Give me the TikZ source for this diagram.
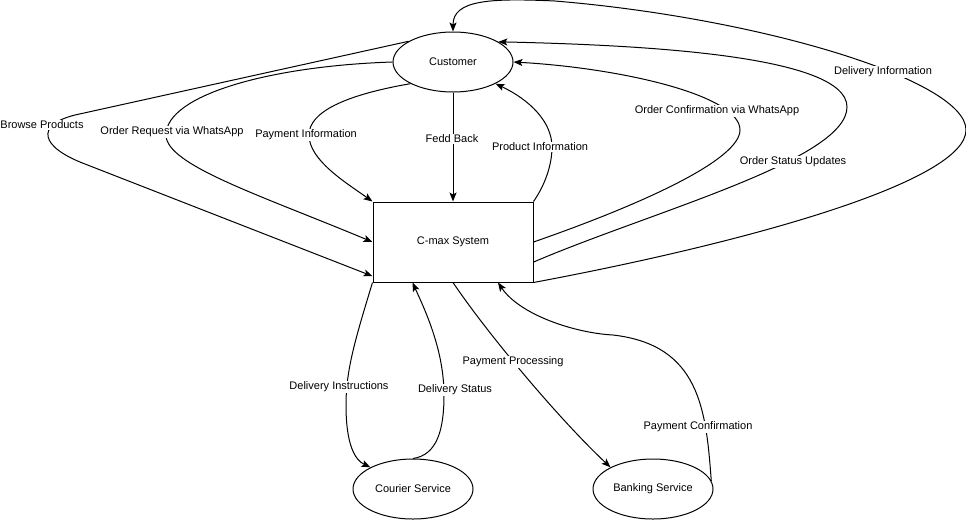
\documentclass[tikz,border=0pt]{standalone}
\usepackage{fontspec}
\setmainfont{Liberation Sans}
\usetikzlibrary{shapes.geometric,arrows.meta}
\begin{document}
\begin{tikzpicture}[x=1pt,y=-1pt,
  font=\fontsize{11}{13}\selectfont,
  entity/.style={ellipse,draw,line width=1pt,minimum width=120pt,minimum height=60pt,inner sep=0pt,fill=white},
  process/.style={rectangle,draw,line width=1pt,minimum width=160pt,minimum height=80pt,inner sep=0pt,fill=white},
  flow/.style={line width=1pt,-{Stealth[length=9pt,width=7pt,inset=2pt]}},
  lbl/.style={fill=white,inner sep=1pt}]

% canvas
\fill[white] (0,0) rectangle (966,520);
\useasboundingbox (0,0) rectangle (966,520);

% external entities and the system
\node[entity]  (customer) at (453,62)  {Customer};
\node[process] (cmax)     at (453,242) {C-max System};
\node[entity]  (courier)  at (413,489) {Courier Service};
\node[entity]  (bank)     at (653,489) {Banking Service};

% customer -> system
\draw[flow] (customer.155) -- (75,115) .. controls (35,125) and (40,147) .. (85,164) -- (cmax.203);
\draw[flow] (customer.west) .. controls (270,66) and (166,95) .. (166,135)
            .. controls (166,165) and (260,195) .. (cmax.west);
\draw[flow] (customer.207) .. controls (345,95) and (309,112) .. (309,135)
            .. controls (309,160) and (345,182) .. (cmax.north west);
\draw[flow] (customer.south) -- (cmax.north);

% system -> customer
\draw[flow] (cmax.north east) .. controls (545,185) and (552,165) .. (552,147)
            .. controls (552,122) and (530,100) .. (customer.333);
\draw[flow] (cmax.east) .. controls (640,205) and (740,160) .. (740,130)
            .. controls (740,95) and (620,68) .. (customer.east);
\draw[flow] (cmax.346) .. controls (650,212) and (847,160) .. (847,107)
            .. controls (847,55) and (640,45) .. (customer.24);
\draw[flow] (cmax.south east) .. controls (760,240) and (966,180) .. (966,130)
            .. controls (966,80) and (760,18) .. (555,1)
            .. controls (490,-2) and (453,0) .. (customer.north);

% courier
\draw[flow] (cmax.south west) .. controls (355,340) and (346,370) .. (346,405)
            .. controls (346,445) and (355,460) .. (courier.153);
\draw[flow] (courier.north) .. controls (437,455) and (444,430) .. (444,395)
            .. controls (444,350) and (425,310) .. (cmax.225);

% bank
\draw[flow] (cmax.south) .. controls (485,330) and (555,415) .. (bank.153);
\draw[flow] (bank.8) .. controls (706,410) and (700,345) .. (613,335)
            .. controls (575,333) and (520,315) .. (cmax.318);

% flow labels
\node[lbl] (l-browse)  at (42,125)  {Browse Products};
\node[lbl] (l-order)   at (172,132) {Order Request via WhatsApp};
\node[lbl] (l-payinfo) at (306,135) {Payment Information};
\node[lbl] (l-fb)      at (452,139) {Fedd Back};
\node[lbl] (l-prod)    at (540,147) {Product Information};
\node[lbl] (l-conf)    at (717,111) {Order Confirmation via WhatsApp};
\node[lbl] (l-status)  at (793,162) {Order Status Updates};
\node[lbl] (l-delinfo) at (883,72)  {Delivery Information};
\node[lbl] (l-dins)    at (339,387) {Delivery Instructions};
\node[lbl] (l-dstat)   at (455,390) {Delivery Status};
\node[lbl] (l-pproc)   at (513,362) {Payment Processing};
\node[lbl] (l-pconf)   at (698,427) {Payment Confirmation};
\end{tikzpicture}
\end{document}
